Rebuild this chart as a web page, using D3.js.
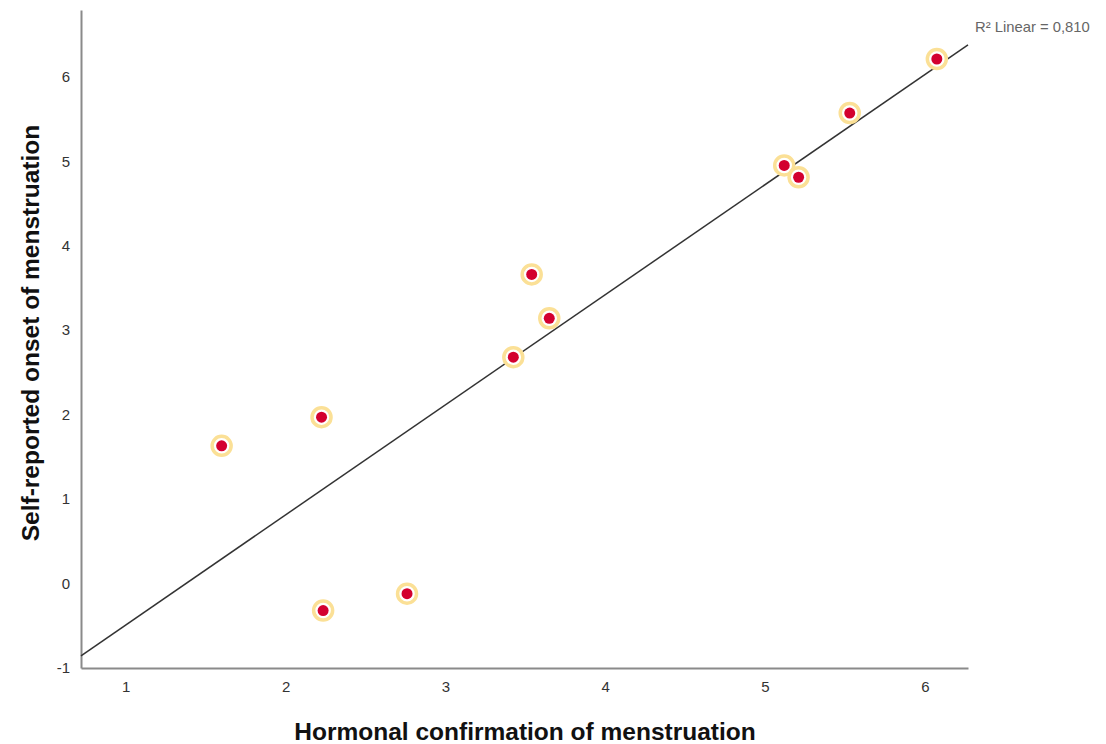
<!DOCTYPE html>
<html>
<head>
<meta charset="utf-8">
<script src="https://cdn.jsdelivr.net/npm/d3@7"></script>
<style>
  body { margin: 0; background: #fff; }
  text { font-family: "Liberation Sans", Arial, sans-serif; }
</style>
</head>
<body>
<svg width="1106" height="744"></svg>
<script>
// hormonal confirmation (x) vs self-reported onset (y)
const hormonal = [1.60, 2.225, 2.235, 2.76, 3.425, 3.54, 3.65, 5.12, 5.21, 5.53, 6.075];
const selfReported = [1.63, 1.97, -0.32, -0.12, 2.68, 3.66, 3.14, 4.95, 4.81, 5.57, 6.21];
const xTicks = [1, 2, 3, 4, 5, 6];
const yTicks = [-1, 0, 1, 2, 3, 4, 5, 6];
const r2Label = "R² Linear = 0,810";

const svg = d3.select("svg");

const x = d3.scaleLinear().domain([0.72, 6.27]).range([81, 968]);
const y = d3.scaleLinear().domain([-1, 6.79]).range([668, 10]);

const points = hormonal.map((v, i) => ({ x: v, y: selfReported[i] }));

// least squares fit
const mx = d3.mean(hormonal), my = d3.mean(selfReported);
const slope = d3.sum(points, (p) => (p.x - mx) * (p.y - my)) /
  d3.sum(points, (p) => (p.x - mx) * (p.x - mx));
const intercept = my - slope * mx;

const fmt = (d) => String(d); // plain hyphen for negatives, like SPSS

// axes, no tick marks
const xAxis = svg.append("g")
  .attr("transform", `translate(0,${y(-1)})`)
  .call(d3.axisBottom(x).tickValues(xTicks).tickSize(0).tickPadding(13).tickFormat(fmt));
const yAxis = svg.append("g")
  .attr("transform", `translate(${x(0.72)},0)`)
  .call(d3.axisLeft(y).tickValues(yTicks).tickSize(0).tickPadding(11).tickFormat(fmt));

[xAxis, yAxis].forEach((g) => {
  g.select(".domain").attr("stroke", "#8a8a8a").attr("stroke-width", 2);
  g.selectAll("text").attr("font-size", 15).attr("fill", "#333")
    .attr("font-family", "'Liberation Sans', Arial, sans-serif");
});

// fit line
const dom = x.domain();
svg.append("line")
  .attr("x1", x(dom[0]))
  .attr("y1", y(intercept + slope * dom[0]))
  .attr("x2", x(dom[1]))
  .attr("y2", y(intercept + slope * dom[1]))
  .attr("stroke", "#333")
  .attr("stroke-width", 1.5);

// markers
const marks = svg.append("g");
marks.selectAll("circle.ring")
  .data(points)
  .enter()
  .append("circle")
  .attr("class", "ring")
  .attr("cx", (d) => x(d.x))
  .attr("cy", (d) => y(d.y))
  .attr("r", 9.5)
  .attr("fill", "#fff")
  .attr("stroke", "#fbe096")
  .attr("stroke-width", 3.5);
marks.selectAll("circle.dot")
  .data(points)
  .enter()
  .append("circle")
  .attr("class", "dot")
  .attr("cx", (d) => x(d.x))
  .attr("cy", (d) => y(d.y))
  .attr("r", 5.5)
  .attr("fill", "#d3002f");

svg.append("text")
  .attr("x", 975)
  .attr("y", 32)
  .attr("font-size", 14.8)
  .attr("fill", "#666")
  .text(r2Label);

svg.append("text")
  .attr("x", 525)
  .attr("y", 740)
  .attr("text-anchor", "middle")
  .attr("font-size", 24.5)
  .attr("font-weight", "bold")
  .attr("fill", "#111")
  .text("Hormonal confirmation of menstruation");

svg.append("text")
  .attr("transform", "translate(39,333) rotate(-90)")
  .attr("text-anchor", "middle")
  .attr("font-size", 24.5)
  .attr("font-weight", "bold")
  .attr("fill", "#111")
  .text("Self-reported onset of menstruation");
</script>
</body>
</html>
